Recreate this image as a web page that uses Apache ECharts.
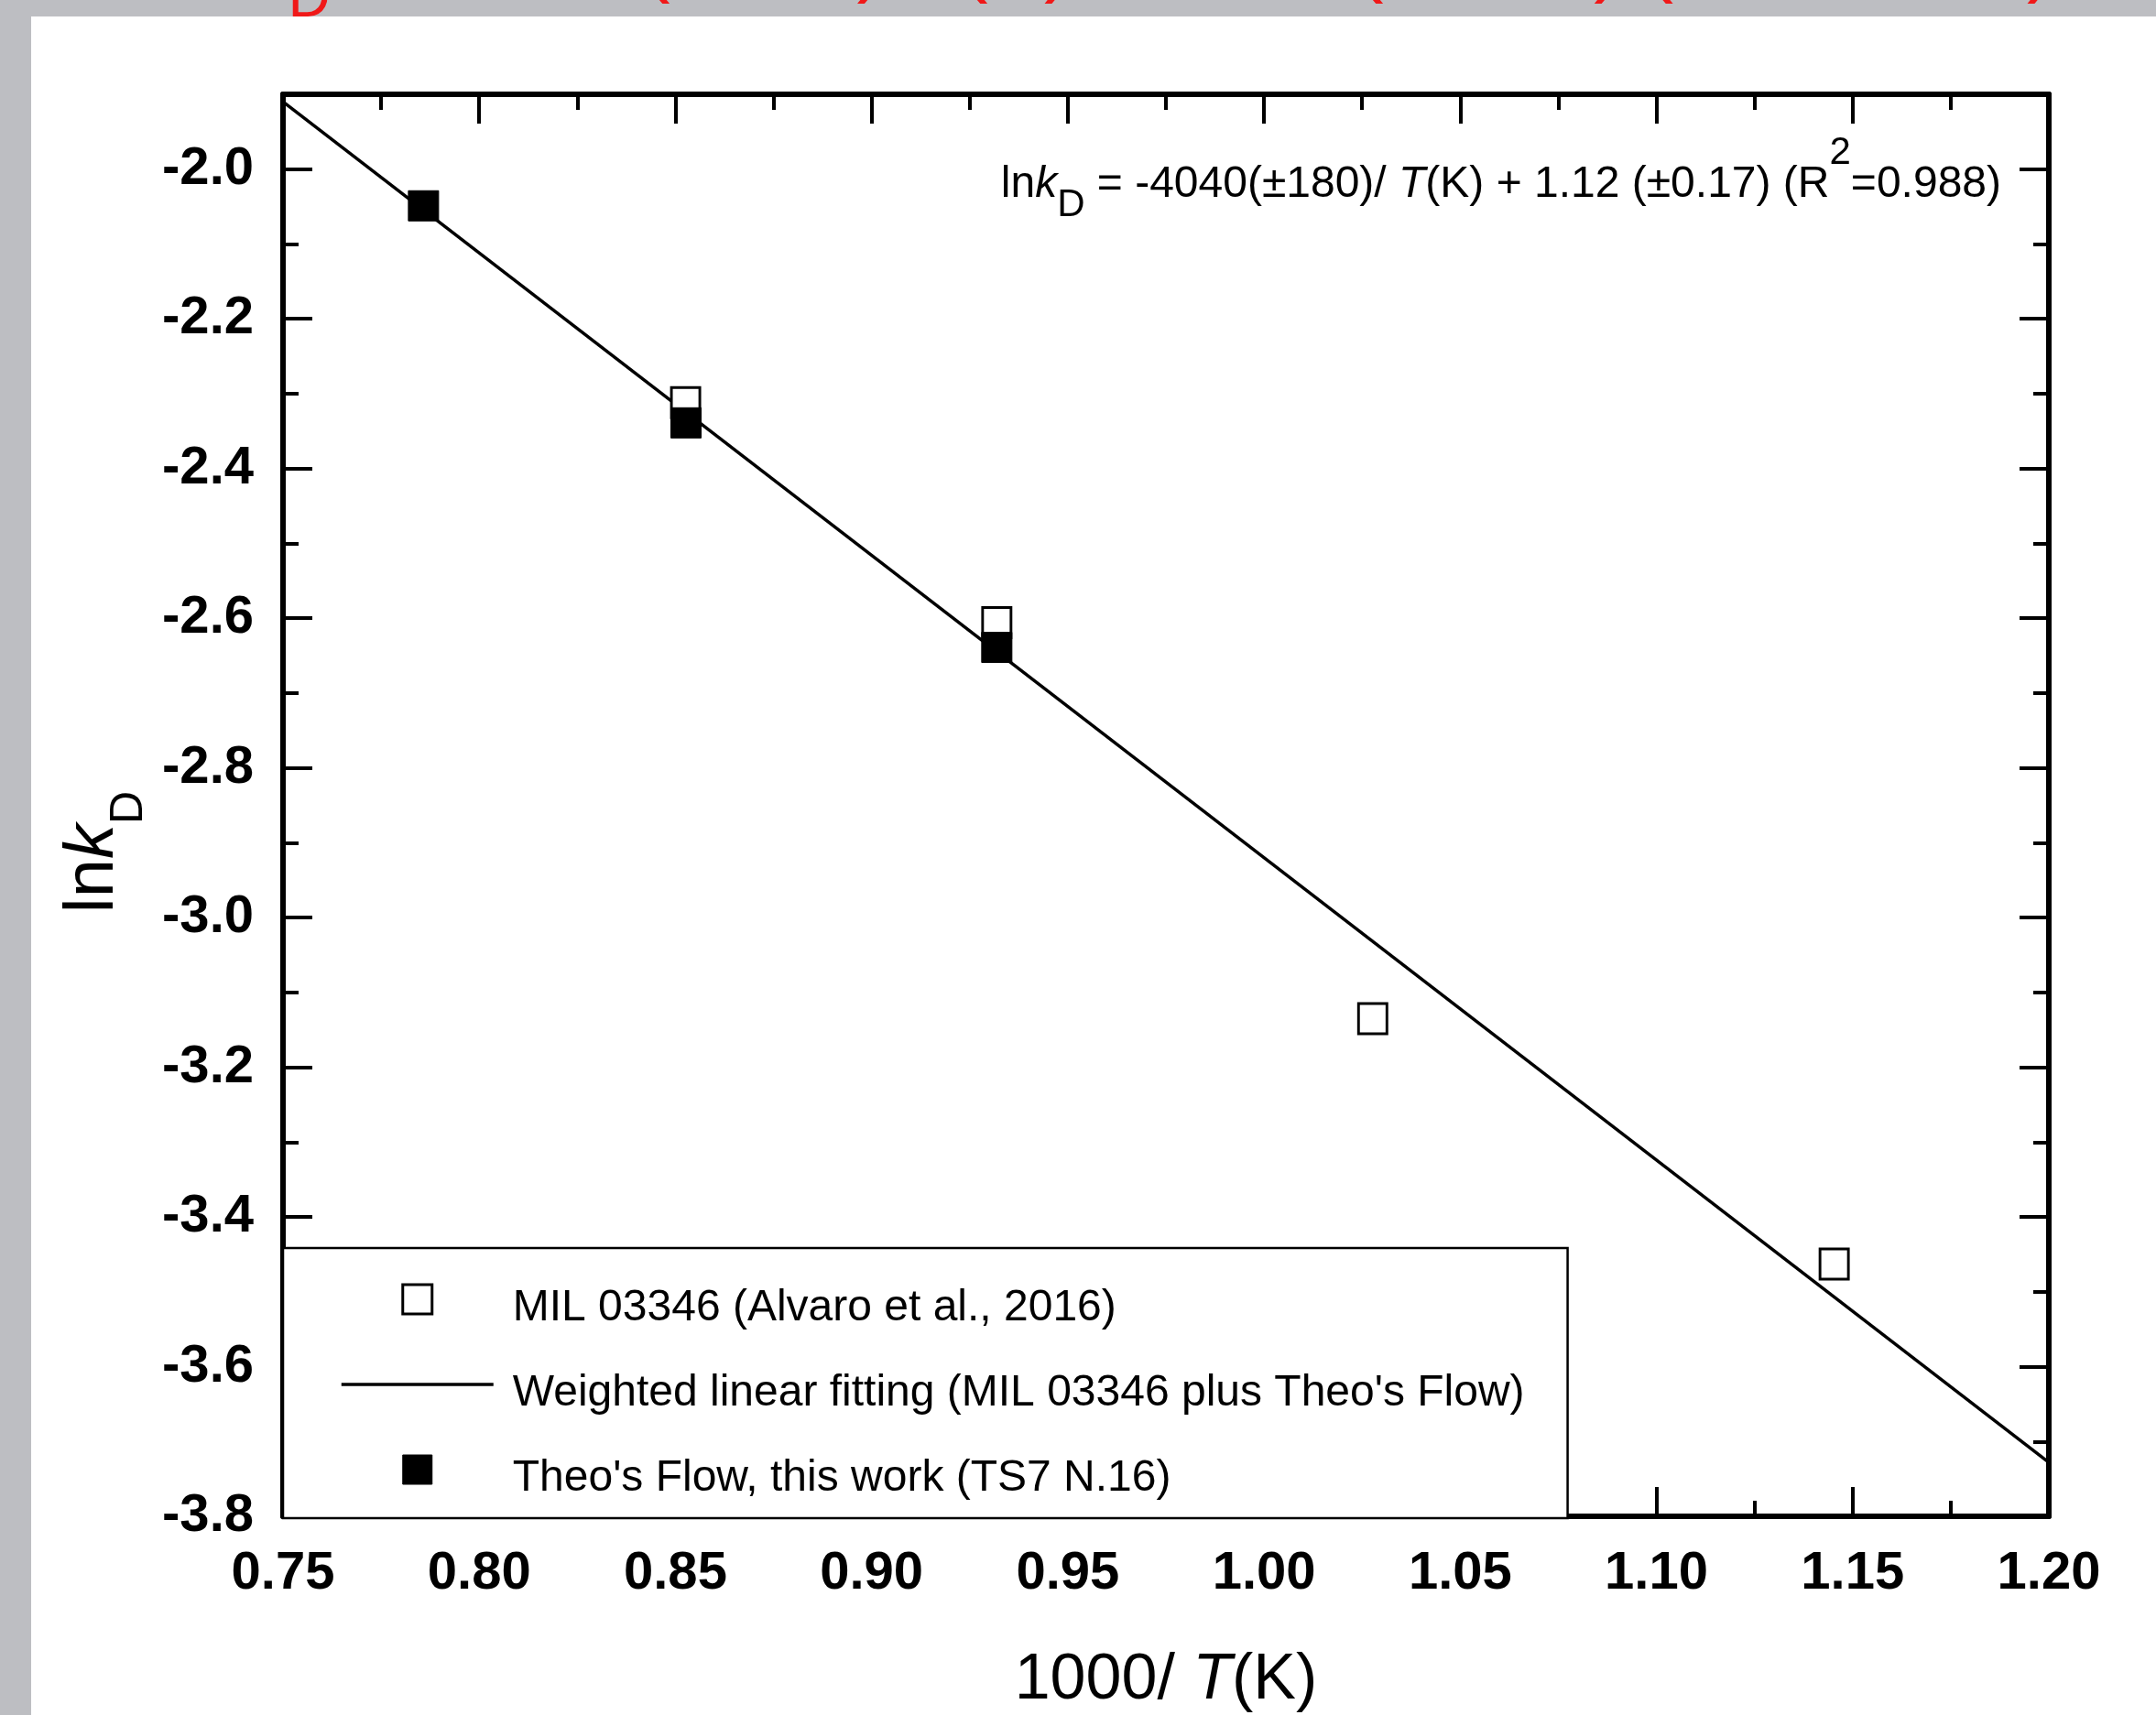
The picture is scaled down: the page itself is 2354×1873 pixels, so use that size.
<!DOCTYPE html>
<html>
<head>
<meta charset="utf-8">
<script src="https://cdn.jsdelivr.net/npm/echarts@6/dist/echarts.min.js"></script>
<style>
html,body{margin:0;padding:0;background:#fff;}
#chart{width:2354px;height:1873px;}
</style>
</head>
<body>
<div id="chart"></div>
<script>
// ---------- data ----------
const milName  = 'MIL 03346 (Alvaro et al., 2016)';
const fitName  = "Weighted linear fitting (MIL 03346 plus Theo's Flow)";
const theoName = "Theo's Flow, this work (TS7 N.16)";

const milX  = [0.8526, 0.9319, 1.0277, 1.1453];
const milY  = [-2.312, -2.606, -3.135, -3.463];

const theoX = [0.7858, 0.8527, 0.9319];
const theoY = [-2.049, -2.339, -2.639];

const fitX  = [0.75, 1.20];
const fitY  = [-1.910, -3.728];

const xMin = 0.75, xMax = 1.20, xStep = 0.05;
const yMin = -3.8, yMax = -1.90, yStep = 0.2;

const equationText = '{n|ln}{i|k}{s|D}{n| = -4040(±180)/ }{i|T}{n|(K) + 1.12 (±0.17) (R}{p|2}{n|=0.988)}';
const redTitleText = '{n|ln}{i|k}{s|D}{n| = -4040(±180)/}{i|T}{n|(K) + 1.12 (±0.17) (R}{p|2}{n|=0.988)}';

// ---------- helpers ----------
const FONT = "'Liberation Sans', Arial, Helvetica, sans-serif";
const zip = (xs, ys) => xs.map((x, i) => [x, ys[i]]);
const SQUARE = 'path://M0,0L32,0L32,32L0,32Z';

const axisLine  = { show: true, onZero: false, lineStyle: { color: '#000', width: 6 } };
const axisTick  = { show: true, inside: true, length: 32, lineStyle: { color: '#000', width: 4 } };
const minorTick = { show: true, splitNumber: 2, length: 17, lineStyle: { color: '#000', width: 4 } };
const tickLabel = { fontFamily: FONT, fontSize: 58, fontWeight: 'bold', color: '#000' };

const chart = echarts.init(document.getElementById('chart'), null, { renderer: 'canvas' });

const option = {
  animation: false,
  backgroundColor: '#ffffff',
  grid: { left: 309, right: 117, top: 103, bottom: 217, containLabel: false, outerBoundsMode: 'none' },
  xAxis: [
    {
      type: 'value', position: 'bottom', min: xMin, max: xMax, interval: xStep,
      axisLine, axisTick, minorTick, splitLine: { show: false },
      axisLabel: Object.assign({ margin: 34, showMinLabel: true, showMaxLabel: true,
        formatter: v => v.toFixed(2) }, tickLabel),
      name: '1000/ {i|T}(K)', nameLocation: 'middle', nameGap: 145,
      nameTextStyle: { fontFamily: FONT, fontSize: 70, lineHeight: 70, color: '#000',
        rich: { i: { fontFamily: FONT, fontSize: 70, lineHeight: 70, fontStyle: 'italic', color: '#000' } } }
    },
    {
      type: 'value', position: 'top', min: xMin, max: xMax, interval: xStep,
      axisLine, axisTick, minorTick, splitLine: { show: false }, axisLabel: { show: false }
    }
  ],
  yAxis: [
    {
      type: 'value', position: 'left', min: yMin, max: yMax, interval: yStep,
      axisLine, axisTick, minorTick, splitLine: { show: false },
      axisLabel: Object.assign({ margin: 32, showMaxLabel: false,
        formatter: v => (Math.abs(v / yStep - Math.round(v / yStep)) < 1e-6 ? v.toFixed(1) : '') }, tickLabel),
      name: '{n|ln}{i|k}{s|D}', nameLocation: 'middle', nameRotate: 90, nameGap: 155,
      nameTextStyle: {
        color: '#000', padding: [0, 102, 0, 0],
        rich: {
          n: { fontFamily: FONT, fontSize: 76, lineHeight: 86, color: '#000' },
          i: { fontFamily: FONT, fontSize: 76, lineHeight: 86, fontStyle: 'italic', color: '#000' },
          s: { fontFamily: FONT, fontSize: 50, lineHeight: 50, padding: [78, 0, 0, 0], color: '#000' }
        }
      }
    },
    {
      type: 'value', position: 'right', min: yMin, max: yMax, interval: yStep,
      axisLine, axisTick, minorTick, splitLine: { show: false }, axisLabel: { show: false }
    }
  ],
  legend: {
    orient: 'vertical', left: 309, top: 1363,
    padding: [22, 47, 19, 62],
    itemWidth: 166, itemHeight: 32, itemGap: 25,
    symbolKeepAspect: true,
    borderColor: '#000', borderWidth: 2.5, backgroundColor: '#fff',
    selectedMode: false,
    formatter: name => '{t|' + name + '}',
    textStyle: {
      fontFamily: FONT, fontSize: 48, color: '#000',
      rich: { t: { fontFamily: FONT, fontSize: 48, lineHeight: 48, color: '#000', padding: [20, 0, 0, 16] } }
    },
    data: [
      { name: milName, icon: SQUARE, itemStyle: { color: '#fff', borderColor: '#000', borderWidth: 3 } },
      { name: fitName, itemStyle: { color: 'rgba(0,0,0,0)', borderColor: 'rgba(0,0,0,0)', borderWidth: 0 },
        lineStyle: { color: '#000', width: 3.5 } },
      { name: theoName, icon: SQUARE, itemStyle: { color: '#000', borderColor: '#000', borderWidth: 1 } }
    ]
  },
  series: [
    {
      name: fitName, type: 'line', z: 2, data: zip(fitX, fitY),
      symbol: 'none', showSymbol: false, silent: true,
      lineStyle: { color: '#000', width: 3.5 }, itemStyle: { color: '#000' }
    },
    {
      name: milName, type: 'scatter', z: 3, data: zip(milX, milY),
      symbol: 'rect', symbolSize: [31, 33],
      itemStyle: { color: '#ffffff', borderColor: '#000', borderWidth: 3, opacity: 1 }
    },
    {
      name: theoName, type: 'scatter', z: 4, data: zip(theoX, theoY),
      symbol: 'rect', symbolSize: [33, 33],
      itemStyle: { color: '#000', borderColor: '#000', borderWidth: 1, opacity: 1 }
    }
  ],
  graphic: [
    { type: 'rect', z: 1, shape: { x: 0, y: 0, width: 2354, height: 18 }, style: { fill: '#bdbec2' }, silent: true },
    { type: 'rect', z: 1, shape: { x: 0, y: 0, width: 34, height: 1873 }, style: { fill: '#bdbec2' }, silent: true },
    {
      type: 'text', z: 20, x: 197, y: -40, silent: true,
      style: {
        text: redTitleText, align: 'left', verticalAlign: 'middle',
        rich: {
          n: { fontFamily: FONT, fontSize: 92, lineHeight: 92, fill: '#f01818' },
          i: { fontFamily: FONT, fontSize: 92, lineHeight: 92, fontStyle: 'italic', fill: '#f01818' },
          s: { fontFamily: FONT, fontSize: 64, lineHeight: 64, padding: [80, 0, 0, 0], fill: '#f01818' },
          p: { fontFamily: FONT, fontSize: 64, lineHeight: 64, padding: [0, 0, 58, 0], fill: '#f01818' }
        }
      }
    },
    {
      type: 'text', x: 2185, y: 202, z: 10, silent: true,
      style: {
        text: equationText, align: 'right', verticalAlign: 'middle',
        rich: {
          n: { fontFamily: FONT, fontSize: 48, lineHeight: 56, fill: '#000' },
          i: { fontFamily: FONT, fontSize: 48, lineHeight: 56, fontStyle: 'italic', fill: '#000' },
          s: { fontFamily: FONT, fontSize: 42, lineHeight: 42, padding: [44, 0, 0, 0], fill: '#000' },
          p: { fontFamily: FONT, fontSize: 42, lineHeight: 42, padding: [0, 0, 70, 0], fill: '#000' }
        }
      }
    }
  ]
};

chart.setOption(option);
</script>
</body>
</html>
